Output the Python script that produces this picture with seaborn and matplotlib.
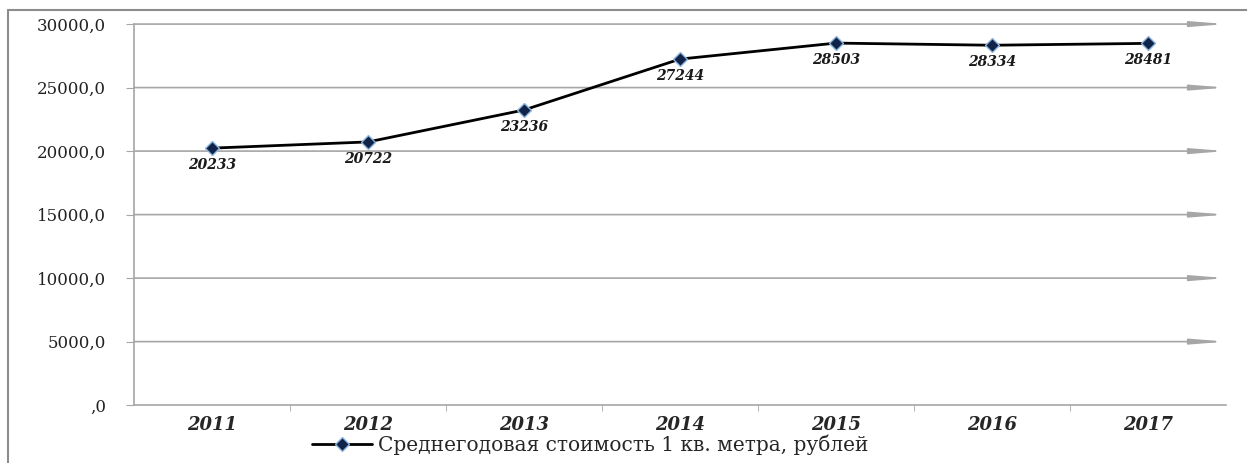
import matplotlib
matplotlib.use('Agg')
import matplotlib.pyplot as plt
import seaborn as sns
import pandas as pd
from matplotlib.lines import Line2D

# данные
years = ['2011', '2012', '2013', '2014', '2015', '2016', '2017']
price = [20233, 20722, 23236, 27244, 28503, 28334, 28481]
y_ticks = [0, 5000, 10000, 15000, 20000, 25000, 30000]
y_labels = [',0', '5000,0', '10000,0', '15000,0', '20000,0', '25000,0', '30000,0']
series_name = 'Среднегодовая стоимость 1 кв. метра, рублей'

df = pd.DataFrame({'year': years, 'price': price})

sns.set_style('white')
plt.rcParams['font.family'] = ['DejaVu Serif']

fig = plt.figure(figsize=(12.47, 4.63), dpi=100)
ax = fig.add_axes([0.1075, 0.125, 0.8756, 0.823])

grid_col = '#a6a6a6'

# линии сетки со стрелками
for y in y_ticks[1:]:
    ax.annotate('', xy=(6.5, y), xytext=(-0.5, y),
                arrowprops=dict(arrowstyle='-|>,head_length=2.0,head_width=0.16',
                                color=grid_col, lw=1.2, shrinkA=0, shrinkB=0,
                                mutation_scale=10),
                annotation_clip=False)

sns.lineplot(data=df, x='year', y='price', ax=ax, color='black', lw=2,
             marker='D', markersize=7, markerfacecolor='#10244a',
             markeredgecolor='#8fb4dc', markeredgewidth=1,
             label=series_name, zorder=5)

# подписи значений
for i, v in enumerate(price):
    ax.annotate(f'{v}', xy=(i, v), xytext=(0, -17), textcoords='offset pixels',
                ha='center', va='center', fontsize=10, fontweight='bold',
                fontstyle='italic', color='#1a1a1a')

ax.set_xlim(-0.5, 6.5)
ax.set_ylim(0, 30000)
ax.set_yticks(y_ticks)
ax.set_yticklabels(y_labels, fontsize=12, color='#222222')
ax.set_xticks(range(len(years)))
ax.set_xticklabels(years, fontsize=13, fontweight='bold', fontstyle='italic')
ax.set_xticks([i + 0.5 for i in range(len(years) - 1)], minor=True)
ax.tick_params(axis='y', which='major', length=6, color=grid_col, left=True, pad=14)
ax.tick_params(axis='x', which='major', length=0, pad=8)
ax.tick_params(axis='x', which='minor', length=4, color=grid_col, bottom=True, direction='out')
ax.set_xlabel('')
ax.set_ylabel('')

for s in ['top', 'right']:
    ax.spines[s].set_visible(False)
for s in ['left', 'bottom']:
    ax.spines[s].set_color(grid_col)
    ax.spines[s].set_linewidth(1.2)

ax.legend(loc='center', bbox_to_anchor=(0.418, -0.105), frameon=False,
          fontsize=14.5, handlelength=3.0, handletextpad=0.3)

# внешняя рамка
fig.add_artist(Line2D([8 / 1247, 1.0], [1 - 10 / 463, 1 - 10 / 463],
                      color='#8c8c8c', lw=1.5))
fig.add_artist(Line2D([8 / 1247, 8 / 1247], [0.0, 1 - 10 / 463],
                      color='#8c8c8c', lw=1.5))

fig.savefig('out.png', dpi=100)
